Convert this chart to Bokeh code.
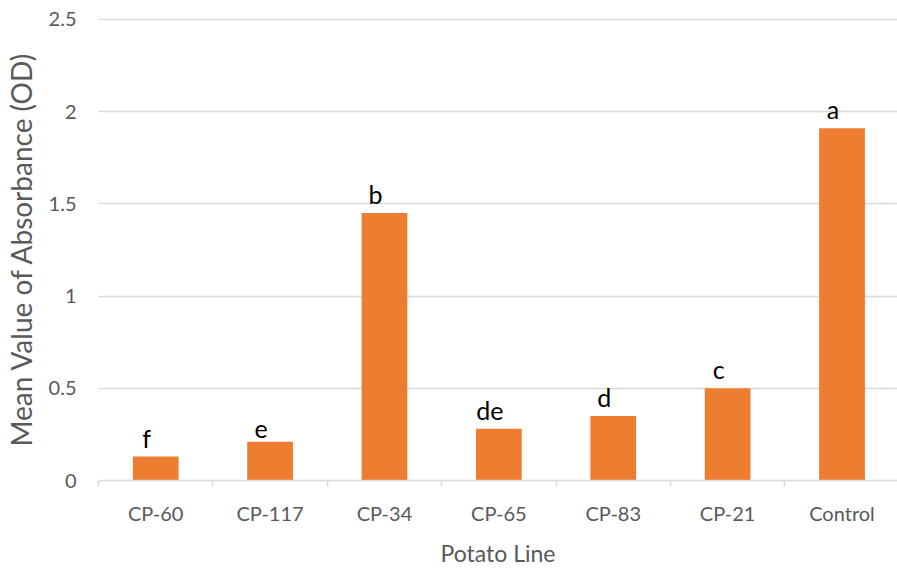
import numpy as np
from bokeh.plotting import figure
from bokeh.models import Range1d, FixedTicker
from bokeh.core.properties import value
from bokeh.embed import file_html
from bokeh.resources import INLINE

categories = ["CP-60", "CP-117", "CP-34", "CP-65", "CP-83", "CP-21", "Control"]
values = [0.13, 0.21, 1.45, 0.28, 0.35, 0.50, 1.91]
letters = ["f", "e", "b", "de", "d", "c", "a"]
y_ticks = [0, 0.5, 1, 1.5, 2, 2.5]
y_tick_labels = ["0", "0.5", "1", "1.5", "2", "2.5"]

FONT = "Lato"
TXT = "#595959"
GRID = "#d9d9d9"

xs = np.arange(len(categories)) + 0.5

p = figure(width=897, height=569, output_backend="svg", toolbar_location=None,
           x_range=Range1d(0, 6.985), y_range=Range1d(0, 2.51),
           min_border_left=96, min_border_right=0, min_border_top=17, min_border_bottom=89)
p.outline_line_color = None
p.background_fill_color = "white"
p.border_fill_color = "white"

p.vbar(x=xs, top=values, width=0.4, fill_color="#ED7D31", line_color=None)
p.text(x=xs, y=values, text=letters, text_align="center", text_baseline="bottom",
       x_offset=-9, y_offset=-4, text_font=value(FONT), text_font_size="25px",
       text_color="black")

# x axis
p.xgrid.visible = False
xa = p.xaxis[0]
xa.ticker = FixedTicker(ticks=list(xs), minor_ticks=list(range(len(categories) + 1)))
xa.major_label_overrides = {float(x): c for x, c in zip(xs, categories)}
xa.major_tick_line_color = None
xa.major_tick_out = 0
xa.major_tick_in = 0
xa.minor_tick_line_color = GRID
xa.minor_tick_line_width = 1.5
xa.minor_tick_out = 6
xa.minor_tick_in = 0
xa.axis_line_color = GRID
xa.axis_line_width = 1.5
xa.major_label_text_font = FONT
xa.major_label_text_font_size = "20px"
xa.major_label_text_color = TXT
xa.major_label_standoff = 14
xa.axis_label = "Potato Line"
xa.axis_label_text_font = FONT
xa.axis_label_text_font_size = "23px"
xa.axis_label_text_font_style = "normal"
xa.axis_label_text_color = TXT
xa.axis_label_standoff = 11

# y axis
ya = p.yaxis[0]
ya.ticker = FixedTicker(ticks=y_ticks)
ya.major_label_overrides = {float(t): l for t, l in zip(y_ticks, y_tick_labels)}
ya.major_tick_line_color = None
ya.major_tick_out = 0
ya.major_tick_in = 0
ya.minor_tick_line_color = None
ya.axis_line_color = None
ya.major_label_text_font = FONT
ya.major_label_text_font_size = "20px"
ya.major_label_text_color = TXT
ya.major_label_standoff = 22
ya.axis_label = "Mean Value of Absorbance (OD)"
ya.axis_label_text_font = FONT
ya.axis_label_text_font_size = "28px"
ya.axis_label_text_font_style = "normal"
ya.axis_label_text_color = TXT
ya.axis_label_standoff = 8

p.ygrid.ticker = FixedTicker(ticks=y_ticks)
p.ygrid.grid_line_color = GRID
p.ygrid.grid_line_width = 1.5

open("out.html", "w").write(file_html(p, INLINE))
